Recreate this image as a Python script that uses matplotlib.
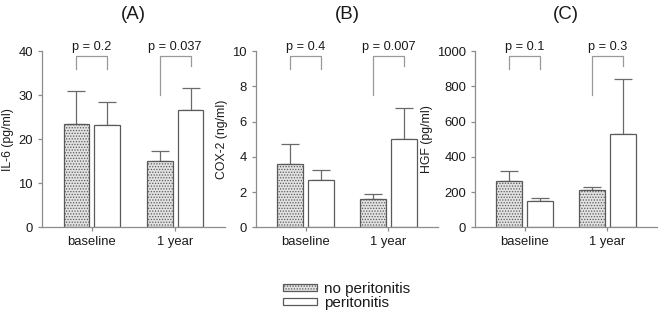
import matplotlib
matplotlib.use("Agg")
import matplotlib.pyplot as plt
from matplotlib.patches import Patch
import numpy as np

plt.rcParams["font.family"] = ["Liberation Sans", "DejaVu Sans"]
plt.rcParams["hatch.linewidth"] = 0.6

# ---- data ----
categories = ["baseline", "1 year"]
series_names = ["no peritonitis", "peritonitis"]

il6_no = [23.4, 15.1]
il6_no_err = [7.6, 2.2]
il6_pe = [23.1, 26.6]
il6_pe_err = [5.3, 5.0]

cox_no = [3.58, 1.59]
cox_no_err = [1.14, 0.29]
cox_pe = [2.67, 5.0]
cox_pe_err = [0.57, 1.78]

hgf_no = [261, 209]
hgf_no_err = [57, 17]
hgf_pe = [147, 532]
hgf_pe_err = [17, 308]

pvals_a = ["p = 0.2", "p = 0.037"]
pvals_b = ["p = 0.4", "p = 0.007"]
pvals_c = ["p = 0.1", "p = 0.3"]

# ---- style ----
AX_COL = "#8c8c8c"
BAR_EDGE = "#5a5a5a"
ERR_COL = "#6a6a6a"
TXT = "#1a1a1a"
W = 0.31
OFF = 0.186


def panel(ax, title, ylabel, ymax, yticks, no, no_err, pe, pe_err, pvals):
    x = np.arange(len(categories))
    ax.bar(x - OFF, no, W, facecolor="#e2e2e2", edgecolor=BAR_EDGE,
           hatch="......", linewidth=0.9, zorder=2)
    ax.bar(x + OFF, pe, W, facecolor="white", edgecolor=BAR_EDGE,
           linewidth=0.9, zorder=2)
    for xs, v, e in ((x - OFF, no, no_err), (x + OFF, pe, pe_err)):
        ax.errorbar(xs, v, yerr=[np.zeros(len(e)), e], fmt="none",
                    ecolor=ERR_COL, elinewidth=0.9, capsize=6.5,
                    capthick=0.9, zorder=1)

    # significance brackets
    top = 0.97 * ymax
    legs = [(0.90, 0.90), (0.75, 0.915)]
    for i, p in enumerate(pvals):
        l, r = legs[i]
        ax.plot([i - OFF, i - OFF, i + OFF, i + OFF],
                [l * ymax, top, top, r * ymax],
                color="#999999", lw=0.9, clip_on=False)
        ax.text(i, 1.02 * ymax, p, ha="center", va="center",
                fontsize=9.2, color=TXT, clip_on=False)

    ax.set_xlim(-0.6, 1.6)
    ax.set_ylim(0, ymax)
    ax.set_yticks(yticks)
    ax.set_xticks(x)
    ax.set_xticklabels(categories)
    for s in ("top", "right"):
        ax.spines[s].set_visible(False)
    for s in ("left", "bottom"):
        ax.spines[s].set_color(AX_COL)
        ax.spines[s].set_linewidth(0.9)
    ax.tick_params(colors=AX_COL, labelcolor=TXT, labelsize=9.4,
                   length=3, width=0.9)
    ax.set_ylabel(ylabel, fontsize=8.8, color=TXT, labelpad=3)
    ax.set_title(title, fontsize=13.5, color=TXT, pad=23)


fig = plt.figure(figsize=(6.58, 3.14), dpi=100)
H = 176.3 / 314
B = (314 - 227.3) / 314
ax_a = fig.add_axes([42 / 658, B, 183 / 658, H])
ax_b = fig.add_axes([256 / 658, B, 182 / 658, H])
ax_c = fig.add_axes([475 / 658, B, 182 / 658, H])

panel(ax_a, "(A)", "IL-6 (pg/ml)", 40, [0, 10, 20, 30, 40],
      il6_no, il6_no_err, il6_pe, il6_pe_err, pvals_a)
panel(ax_b, "(B)", "COX-2 (ng/ml)", 10, [0, 2, 4, 6, 8, 10],
      cox_no, cox_no_err, cox_pe, cox_pe_err, pvals_b)
panel(ax_c, "(C)", "HGF (pg/ml)", 1000, [0, 200, 400, 600, 800, 1000],
      hgf_no, hgf_no_err, hgf_pe, hgf_pe_err, pvals_c)

handles = [Patch(facecolor="#e2e2e2", edgecolor=BAR_EDGE, hatch="......",
                 linewidth=0.9),
           Patch(facecolor="white", edgecolor=BAR_EDGE, linewidth=0.9)]
fig.legend(handles, series_names, loc="upper left",
           bbox_to_anchor=(283 / 658, 1 - 282 / 314), frameon=False,
           fontsize=11, handlelength=2.2, handleheight=0.38,
           handletextpad=0.5, labelspacing=0.0, borderpad=0,
           borderaxespad=0, labelcolor=TXT)

fig.savefig("out.png", dpi=100)
